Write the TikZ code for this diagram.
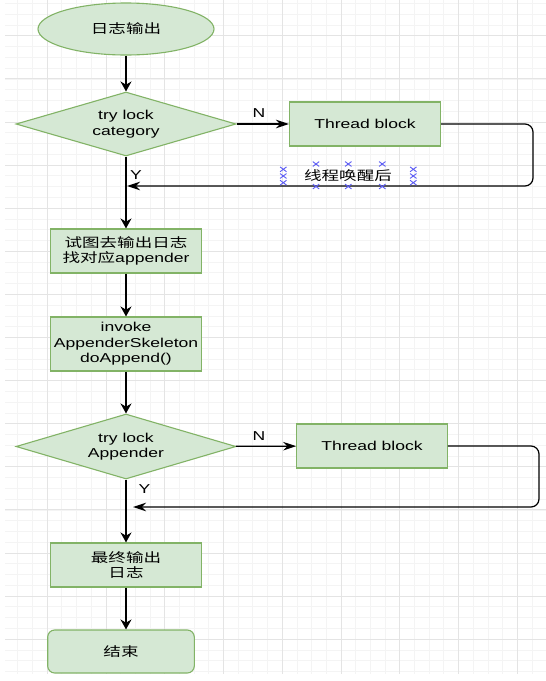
\documentclass[tikz,border=0pt]{standalone}
\usepackage{fontspec}
\setmainfont{Liberation Sans}[FakeStretch=1.36]
\newfontfamily\cjk{Noto Sans CJK SC}[FakeStretch=1.36]
\usetikzlibrary{arrows.meta}
\usetikzlibrary{shapes.geometric}
\definecolor{boxfill}{HTML}{D5E8D4}
\definecolor{boxline}{HTML}{82B366}
\definecolor{gridminor}{HTML}{F4F4F4}
\definecolor{gridmajor}{HTML}{E4E4E4}
\definecolor{handleblue}{HTML}{5A5AF5}
\tikzset{
  txt/.style={font=\fontsize{12.9pt}{15.5pt}\selectfont, align=center, text=black},
  greenbox/.style={txt, draw=boxline, fill=boxfill, line width=1.1pt, inner sep=2pt, minimum width=150.5pt},
  decision/.style={txt, diamond, aspect=3.4, draw=boxline, fill=boxfill, line width=1.1pt, inner sep=0pt, minimum width=220pt, minimum height=64pt},
  varr/.style={line width=1.2pt, -{Stealth[length=10pt,width=11pt]}},
  harr/.style={line width=1.2pt, -{Stealth[length=13pt,width=8.5pt]}},
  lbl/.style={txt},
  handle/.style={handleblue, line width=0.9pt}
}
\begin{document}
\begin{tikzpicture}[x=1pt, y=-1pt]
\useasboundingbox (0,0) rectangle (546,681);
\fill[white] (0,0) rectangle (546,681);
\begin{scope}
\clip (5,0) rectangle (546,674);
\foreach \i in {-3,...,34} \draw[gridminor, line width=0.8pt] ({47.2+14.69*\i},0) -- ++(0,674);
\foreach \i in {-4,...,59} \draw[gridminor, line width=0.8pt] (5,{35.8+10.775*\i}) -- ++(541,0);
\foreach \i in {-1,...,8} \draw[gridmajor, line width=0.9pt] ({47.2+58.77*\i},0) -- ++(0,674);
\foreach \i in {-1,...,15} \draw[gridmajor, line width=0.9pt] (5,{35.8+43.1*\i}) -- ++(541,0);
\end{scope}

\node[greenbox, ellipse, minimum width=176pt, minimum height=52pt, inner sep=0pt] (start) at (126,29) {\cjk 日志输出};
\node[decision] (lockcat) at (126,124) {try lock\\category};
\node[greenbox, minimum width=151pt, minimum height=44pt] (blockcat) at (365,124) {Thread block};
\node[greenbox, minimum height=44pt] (findapp) at (126,251) {{\cjk 试图去输出日志}\\{\cjk 找对应}appender};
\node[greenbox, minimum height=54pt] (invoke) at (126,344) {invoke\\AppenderSkeleton\\doAppend()};
\node[decision, minimum height=65pt] (lockapp) at (126,446.5) {try lock\\Appender};
\node[greenbox, minimum height=44pt] (blockapp) at (372,446) {Thread block};
\node[greenbox, minimum height=44pt] (output) at (126,565) {{\cjk 最终输出}\\{\cjk 日志}};
\node[greenbox, rounded corners=7pt, minimum width=146.6pt, minimum height=43pt] (finish) at (121,651.5) {\cjk 结束};

\node[lbl] (ncat) at (259,113) {N};
\node[lbl] (ycat) at (136,175) {Y};
\node[lbl] (napp) at (259,436) {N};
\node[lbl] (yapp) at (144.5,489) {Y};
\node[lbl] (wake) at (348,176) {\cjk 线程唤醒后};
\coordinate (backcat) at (127,186);
\coordinate (backapp) at (133,507);

\draw[varr] (start) -- (lockcat);
\draw[harr] (lockcat) -- (blockcat);
\draw[harr, rounded corners=8pt] (blockcat.east) -- (533,124) -- (533,186) -- (backcat);
\draw[varr] (lockcat) -- (findapp);
\draw[varr] (findapp) -- (invoke);
\draw[varr] (invoke) -- (lockapp);
\draw[harr] (lockapp) -- (blockapp);
\draw[harr, rounded corners=8pt] (blockapp.east) -- (539,446) -- (539,507) -- (backapp);
\draw[varr] (lockapp) -- (output);
\draw[varr] (output) -- (output |- finish.north);

\foreach \x/\y in {316/164, 348.3/164, 382.3/164, 316/186.5, 348.3/186.5, 382.3/186.5, 283.3/169.3, 283.3/176, 283.3/182.7, 413.3/169.3, 413.3/176, 413.3/182.7}
  \draw[handle] (\x-3.2,\y-2.4) -- (\x+3.2,\y+2.4) (\x-3.2,\y+2.4) -- (\x+3.2,\y-2.4);
\end{tikzpicture}
\end{document}
